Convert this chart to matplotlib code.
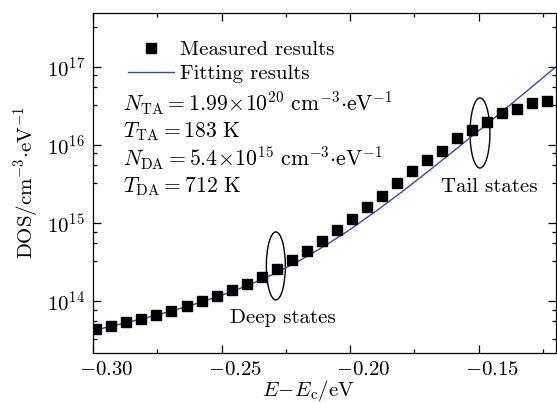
import matplotlib
matplotlib.use("Agg")
import matplotlib.pyplot as plt
import matplotlib.transforms as mtransforms
from matplotlib.patches import Ellipse
from matplotlib.ticker import FixedLocator, LogLocator, NullFormatter

plt.rcParams['font.family'] = 'serif'
plt.rcParams['font.serif'] = ['cmr10']
plt.rcParams['mathtext.fontset'] = 'cm'
plt.rcParams['axes.formatter.use_mathtext'] = True
plt.rcParams['font.size'] = 15

# measured points
E_meas = [-0.2988, -0.2930, -0.2872, -0.2813, -0.2755, -0.2697, -0.2634, -0.2576,
          -0.2518, -0.2459, -0.2401, -0.2342, -0.2284, -0.2226, -0.2167, -0.2109,
          -0.2051, -0.1992, -0.1934, -0.1875, -0.1817, -0.1759, -0.1700, -0.1642,
          -0.1584, -0.1525, -0.1467, -0.1409, -0.1350, -0.1292, -0.1233]
DOS_meas = [4.38e13, 4.78e13, 5.38e13, 5.88e13, 6.62e13, 7.45e13, 8.63e13, 1.00e14,
            1.16e14, 1.38e14, 1.65e14, 2.03e14, 2.57e14, 3.36e14, 4.37e14, 5.88e14,
            8.13e14, 1.13e15, 1.60e15, 2.22e15, 3.26e15, 4.64e15, 6.42e15, 8.38e15,
            1.23e16, 1.56e16, 1.97e16, 2.57e16, 2.90e16, 3.45e16, 3.66e16]

# fitting curve
E_fit = [-0.30, -0.29, -0.28, -0.27, -0.26, -0.25, -0.24, -0.23, -0.22, -0.21,
         -0.20, -0.19, -0.18, -0.17, -0.16, -0.15, -0.14, -0.13, -0.12]
DOS_fit = [4.17e13, 4.99e13, 6.00e13, 7.36e13, 9.18e13, 1.18e14, 1.57e14, 2.19e14,
           3.24e14, 5.04e14, 8.24e14, 1.41e15, 2.48e15, 4.48e15, 8.20e15, 1.52e16,
           2.82e16, 5.30e16, 9.95e16]

xticks = [-0.30, -0.25, -0.20, -0.15]
xtick_labels = [r'$-0.30$', r'$-0.25$', r'$-0.20$', r'$-0.15$']

fig = plt.figure(figsize=(5.57, 4.03), dpi=100)
ax = fig.add_axes([0.167, 0.124, 0.831, 0.844])

ax.plot(E_fit, DOS_fit, color='#2d4ea3', lw=1.0, label='Fitting results', zorder=2)
ax.plot(E_meas, DOS_meas, 's', color='black', ms=7, label='Measured results', zorder=3)

ax.set_yscale('log')
ax.set_xlim(-0.30, -0.12)
ax.set_ylim(2.15e13, 4.9e17)

ax.set_xticks(xticks)
ax.set_xticklabels(xtick_labels)
ax.xaxis.set_minor_locator(FixedLocator([-0.275, -0.225, -0.175, -0.125]))
ax.yaxis.set_major_locator(LogLocator(base=10))
minors = [m * 10.0**k for k in range(12, 19) for m in (3.25, 5.5, 7.75)]
ax.yaxis.set_minor_locator(FixedLocator(minors))
ax.yaxis.set_minor_formatter(NullFormatter())

ax.tick_params(which='both', direction='in', top=True, right=True, width=0.9)
ax.tick_params(which='major', length=5.5, pad=6)
ax.tick_params(which='minor', length=3)
for s in ax.spines.values():
    s.set_linewidth(0.9)

# tick labels sit a little right of their ticks in the original
shift = mtransforms.ScaledTranslation(0.13, 0, fig.dpi_scale_trans)
for lab in ax.get_xticklabels():
    lab.set_transform(lab.get_transform() + shift)

ax.set_xlabel(r'$E\!-\!E_{\rm c}/{\rm eV}$')
ax.xaxis.set_label_coords(0.466, -0.072)
ax.set_ylabel(r'${\rm DOS/cm^{-3}{\cdot}eV^{-1}}$')

h, l = ax.get_legend_handles_labels()
ax.legend(h[::-1], l[::-1], loc='upper left', bbox_to_anchor=(0.075, 0.918),
          frameon=False, handlelength=2.2, handletextpad=0.3, labelspacing=0.25,
          borderpad=0, borderaxespad=0, fontsize=15)

fs_ann = 15.6
ax.text(0.065, 0.735, r'$N_{\rm TA}=1.99\!\times\!10^{20}\ {\rm cm^{-3}{\cdot}eV^{-1}}$',
        transform=ax.transAxes, va='center', ha='left', fontsize=fs_ann)
ax.text(0.065, 0.652, r'$T_{\rm TA}=183\ {\rm K}$',
        transform=ax.transAxes, va='center', ha='left', fontsize=fs_ann)
ax.text(0.065, 0.572, r'$N_{\rm DA}=5.4\!\times\!10^{15}\ {\rm cm^{-3}{\cdot}eV^{-1}}$',
        transform=ax.transAxes, va='center', ha='left', fontsize=fs_ann)
ax.text(0.065, 0.488, r'$T_{\rm DA}=712\ {\rm K}$',
        transform=ax.transAxes, va='center', ha='left', fontsize=fs_ann)

ax.add_patch(Ellipse((0.395, 0.256), 0.041, 0.2, transform=ax.transAxes,
                     fill=False, ec='black', lw=1.0))
ax.add_patch(Ellipse((0.836, 0.647), 0.043, 0.206, transform=ax.transAxes,
                     fill=False, ec='black', lw=1.0))
ax.text(0.411, 0.103, 'Deep states', transform=ax.transAxes, ha='center', va='center')
ax.text(0.856, 0.488, 'Tail states', transform=ax.transAxes, ha='center', va='center')

fig.savefig('out.png', dpi=100)
